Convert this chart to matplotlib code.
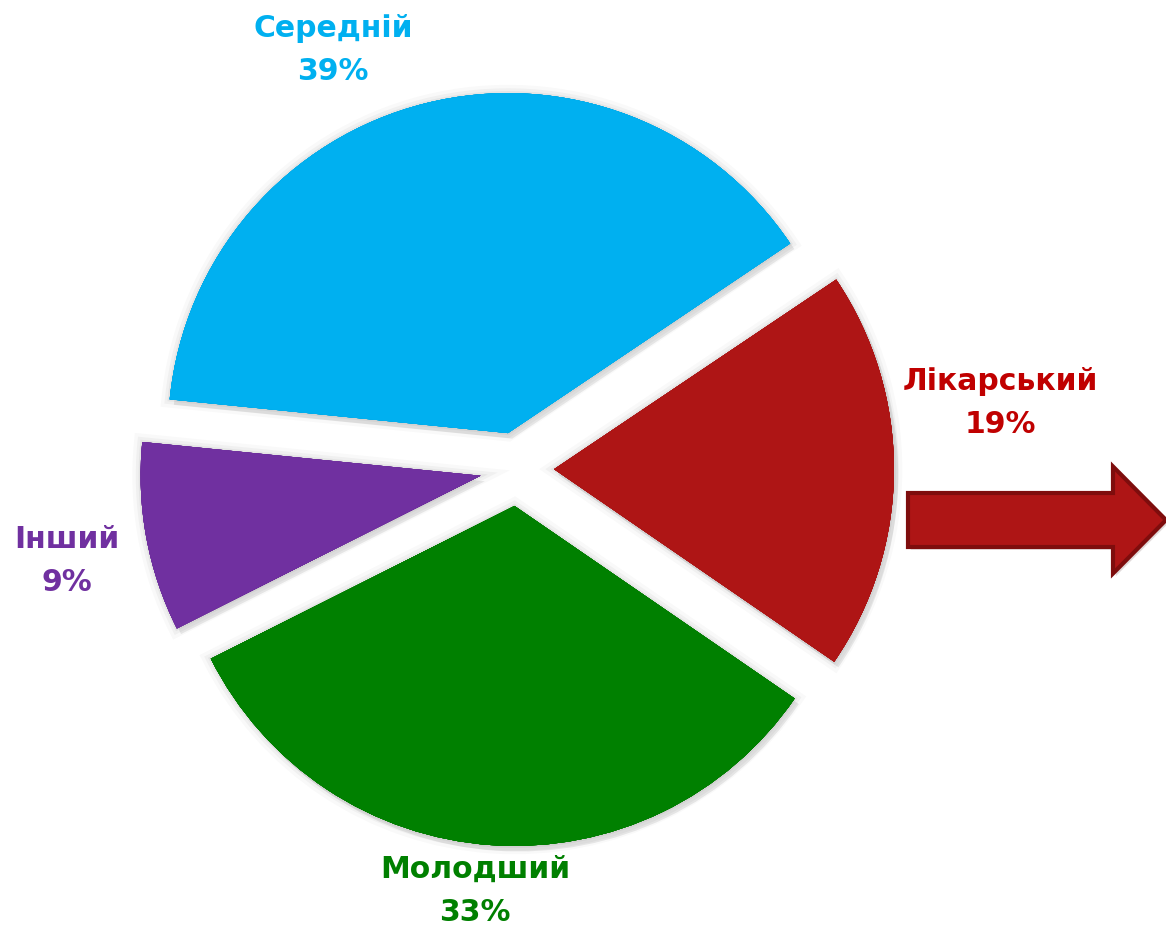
import matplotlib
matplotlib.use("Agg")
import matplotlib.pyplot as plt
import matplotlib.patches as mpatches
import matplotlib.patheffects as pe

# Data
categories = ["Лікарський", "Середній", "Інший", "Молодший"]
shares = [19, 39, 9, 33]
slice_colors = ["#AE1515", "#00B0F0", "#7030A0", "#008000"]
text_colors = ["#C00000", "#00B0F0", "#7030A0", "#008000"]

W, H = 1166, 927
fig = plt.figure(figsize=(W / 100, H / 100), dpi=100)
ax = fig.add_axes([0, 0, 1, 1])

radius = 340
center = (517, H - 469)
explode = [37] * len(shares)
start = -34.5

wedges, _ = ax.pie(shares, colors=slice_colors, startangle=start, counterclock=True,
                   radius=radius, center=center, explode=explode, frame=True)

glow = [pe.SimplePatchShadow(offset=(3, -4), shadow_rgbFace="#000000", alpha=0.08),
        pe.withStroke(linewidth=12, foreground=(0, 0, 0, 0.025)),
        pe.withStroke(linewidth=7, foreground=(0, 0, 0, 0.035)),
        pe.withStroke(linewidth=3, foreground=(0, 0, 0, 0.045)),
        pe.Normal()]
for w in wedges:
    w.set_linewidth(0)
    w.set_path_effects(glow)

ax.set_xlim(0, W)
ax.set_ylim(0, H)
ax.set_aspect("equal")
ax.axis("off")

# label positions (layout, pixel coordinates with y from top)
label_pos = [(1000, 403), (333, 50), (67, 561), (475, 891)]
for cat, val, col, (lx, ly) in zip(categories, shares, text_colors, label_pos):
    ax.text(lx, H - ly, f"{cat}\n{val}%", ha="center", va="center", color=col,
            fontsize=21.5, fontweight="bold", family=["DejaVu Sans"],
            linespacing=1.6)

# arrow
arrow = mpatches.FancyArrow(908, H - 520, 258, 0, width=54, head_width=107,
                            head_length=53, length_includes_head=True,
                            facecolor="#AE1515", edgecolor="#7E0D0D", linewidth=3)
arrow.set_path_effects([pe.SimplePatchShadow(offset=(2, -2), alpha=0.15), pe.Normal()])
ax.add_patch(arrow)

fig.savefig("out.png", dpi=100, facecolor="white")
